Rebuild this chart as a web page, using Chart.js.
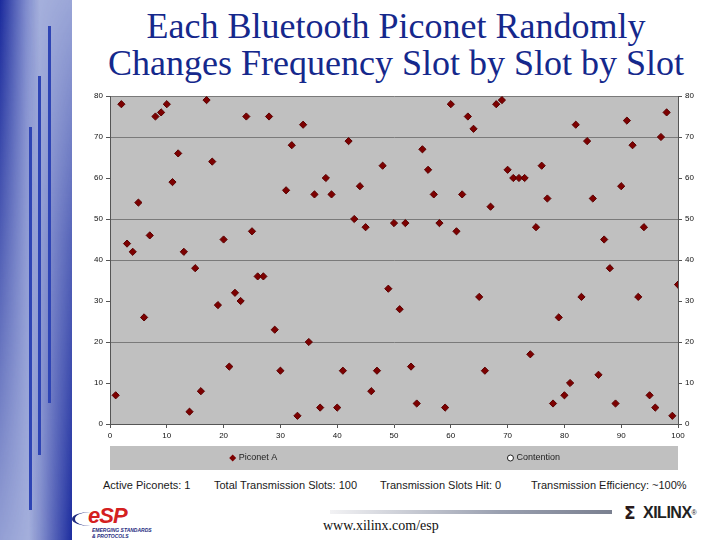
<!DOCTYPE html>
<html>
<head>
<meta charset="utf-8">
<script src="https://cdn.jsdelivr.net/npm/chart.js@4/dist/chart.umd.min.js"></script>
<style>
  html, body { margin:0; padding:0; background:#fff; }
  body { width:720px; height:540px; position:relative; overflow:hidden; font-family:"Liberation Sans", Arial, sans-serif; }
  .band { position:absolute; left:0; top:0; width:72px; height:540px; background:#a9b4de; }
  .bandA { position:absolute; left:0; top:0; width:72px; height:540px;
    background:linear-gradient(to right, #1a2a9c 0%, rgba(40,55,170,0.35) 35%, rgba(40,55,170,0) 55%);
    -webkit-mask-image:linear-gradient(to bottom, #000 0%, rgba(0,0,0,0.5) 60%, rgba(0,0,0,0.15) 100%);
    mask-image:linear-gradient(to bottom, #000 0%, rgba(0,0,0,0.5) 60%, rgba(0,0,0,0.15) 100%); }
  .bandB { position:absolute; left:0; top:0; width:72px; height:540px;
    background:linear-gradient(to right, rgba(30,45,160,0) 40%, rgba(30,45,160,0.6) 75%, #1c2c9e 100%);
    -webkit-mask-image:linear-gradient(to bottom, rgba(0,0,0,0.1) 0%, rgba(0,0,0,0.6) 45%, #000 100%);
    mask-image:linear-gradient(to bottom, rgba(0,0,0,0.1) 0%, rgba(0,0,0,0.6) 45%, #000 100%); }
  .vl { position:absolute; width:3px; background:#2e44b4; }
  .title { position:absolute; left:72px; width:648px; top:8px; text-align:center; font-family:"Liberation Serif","Times New Roman",serif; font-size:36px; line-height:37px; color:#15288c; white-space:nowrap; }
  #wrap { position:absolute; left:80px; top:86px; width:628px; height:390px; }
  .stats { position:absolute; top:479px; font-size:11px; color:#1a1a1a; white-space:nowrap; }
  .url { position:absolute; left:323px; top:518px; font-family:"Liberation Serif","Times New Roman",serif; font-size:14px; color:#111; }
  .bar { position:absolute; left:330px; top:510px; width:282px; height:4px; background:linear-gradient(to right, #f2f2f4, #9aa0b0 60%, #7a8090); }
  .esp { position:absolute; left:88px; top:505px; font-family:"Liberation Sans",Arial,sans-serif; font-weight:bold; font-style:italic; font-size:22px; color:#d42020; letter-spacing:-1px; line-height:22px; }
  .espsw { position:absolute; left:72px; top:512px; width:34px; height:14px; border-left:3px solid #1e2a80; border-radius:50%/50%; }
  .espt { position:absolute; left:92px; top:527px; font-size:5px; font-weight:bold; font-style:italic; color:#1e2a80; line-height:6px; }
  .xmark { position:absolute; left:624px; top:505px; font-family:"DejaVu Sans",sans-serif; font-weight:bold; font-size:17px; color:#2a1a1a; line-height:17px; }
  .xil { position:absolute; left:643px; top:504px; font-family:"Liberation Sans",Arial,sans-serif; font-weight:bold; font-size:16px; color:#222; letter-spacing:-0.5px; line-height:18px; }
  .reg { font-size:7px; vertical-align:top; font-weight:normal; }
</style>
</head>
<body>
<div class="band"></div>
<div class="bandA"></div>
<div class="bandB"></div>
<div class="vl" style="left:29px; top:127px; height:383px;"></div>
<div class="vl" style="left:38px; top:76px; height:379px;"></div>
<div class="vl" style="left:48px; top:26px; height:377px;"></div>

<div class="title">Each Bluetooth Piconet Randomly<br>Changes Frequency Slot by Slot by Slot</div>

<div id="wrap"><canvas id="c" width="628" height="390"></canvas></div>

<div class="stats" style="left:103px;">Active Piconets: 1</div>
<div class="stats" style="left:214px;">Total Transmission Slots: 100</div>
<div class="stats" style="left:380px;">Transmission Slots Hit: 0</div>
<div class="stats" style="left:531px;">Transmission Efficiency: ~100%</div>

<div class="espsw"></div>
<div class="esp">eSP</div>
<div class="espt">EMERGING STANDARDS<br>&amp; PROTOCOLS</div>
<div class="bar"></div>
<div class="url">www.xilinx.com/esp</div>
<div class="xmark">Σ</div>
<div class="xil">XILINX<span class="reg">®</span></div>

<script>
// ---- data ----
const slots = [1,2,3,4,5,6,7,8,9,10,11,12,13,14,15,16,17,18,19,20,21,22,23,24,25,26,27,28,29,30,31,32,33,34,35,36,37,38,39,40,41,42,43,44,45,46,47,48,49,50,51,52,53,54,55,56,57,58,59,60,61,62,63,64,65,66,67,68,69,70,71,72,73,74,75,76,77,78,79,80,81,82,83,84,85,86,87,88,89,90,91,92,93,94,95,96,97,98,99,100];
const piconetA = [7,78,44,42,54,26,46,75,76,78,59,66,42,3,38,8,79,64,29,45,14,32,30,75,47,36,36,75,23,13,57,68,2,73,20,56,4,60,56,4,13,69,50,58,48,8,13,63,33,49,28,49,14,5,67,62,56,49,4,78,47,56,75,72,31,13,53,78,79,62,60,60,60,17,48,63,55,5,26,7,10,73,31,69,55,12,45,38,5,58,74,68,31,48,7,4,70,76,2,34];
const contention = [];
const seriesLabels = ["Piconet A", "Contention"];
const yTicks = [0,10,20,30,40,50,60,70,80];
const xTicks = [0,10,20,30,40,50,60,70,80,90,100];
const visibleGrid = [20,40,50,70,80];

const tickFont = { family: "Liberation Sans, Arial, sans-serif", size: 8 };

const bgPlugin = {
  id: 'bg',
  beforeDraw(chart) {
    const { ctx, chartArea: a } = chart;
    ctx.save();
    ctx.fillStyle = '#c0c0c0';
    ctx.fillRect(a.left, a.top, a.right - a.left, a.bottom - a.top);
    ctx.fillRect(a.left, a.bottom + 22, a.right - a.left, 24);
    ctx.restore();
  },
  afterDraw(chart) {
    const { ctx, chartArea: a } = chart;
    const w = a.right - a.left;
    const y = a.bottom + 34;
    ctx.save();
    ctx.font = "9px 'Liberation Sans', Arial, sans-serif";
    ctx.textBaseline = 'middle';
    const x1 = a.left + 0.216 * w;
    const ds = chart.data.datasets[0];
    ctx.fillStyle = ds.backgroundColor;
    ctx.beginPath();
    ctx.moveTo(x1, y - 3.5); ctx.lineTo(x1 + 3.5, y); ctx.lineTo(x1, y + 3.5); ctx.lineTo(x1 - 3.5, y); ctx.closePath();
    ctx.fill();
    ctx.fillStyle = '#222';
    ctx.fillText(ds.label, x1 + 6, y);
    const x2 = a.left + 0.705 * w;
    const ds2 = chart.data.datasets[1];
    ctx.beginPath();
    ctx.arc(x2, y, 3, 0, Math.PI * 2);
    ctx.fillStyle = '#fff'; ctx.fill();
    ctx.strokeStyle = '#222'; ctx.lineWidth = 1; ctx.stroke();
    ctx.fillStyle = '#222';
    ctx.fillText(ds2.label, x2 + 6, y);
    ctx.restore();
  }
};

new Chart(document.getElementById('c'), {
  type: 'scatter',
  data: {
    datasets: [
      {
        label: seriesLabels[0],
        data: slots.map((s, i) => ({ x: s, y: piconetA[i] })),
        pointStyle: 'rectRot',
        pointRadius: 3.6,
        backgroundColor: '#7d0000',
        borderColor: '#5a0000',
        borderWidth: 1,
        yAxisID: 'y'
      },
      {
        label: seriesLabels[1],
        data: contention,
        pointStyle: 'circle',
        pointRadius: 3,
        backgroundColor: '#fff',
        borderColor: '#222',
        yAxisID: 'y'
      }
    ]
  },
  options: {
    responsive: false,
    animation: false,
    devicePixelRatio: 1,
    layout: { padding: { top: 10, bottom: 32, left: 0, right: 0 } },
    plugins: { legend: { display: false }, tooltip: { enabled: false }, title: { display: false } },
    scales: {
      x: {
        type: 'linear', min: 0, max: 100,
        afterFit(s) { s.height = 20; },
        afterBuildTicks(s) { s.ticks = xTicks.map(v => ({ value: v })); },
        grid: { display: true, drawOnChartArea: false, tickLength: 4, tickColor: '#555' },
        border: { display: true, color: '#555', width: 1 },
        ticks: { font: tickFont, color: '#111', padding: 3, maxRotation: 0 }
      },
      y: {
        type: 'linear', position: 'left', min: 0, max: 80,
        afterFit(s) { s.width = 30; },
        afterBuildTicks(s) { s.ticks = yTicks.map(v => ({ value: v })); },
        grid: {
          color: ctx => visibleGrid.includes(ctx.tick && ctx.tick.value) ? '#7a7a7a' : 'rgba(0,0,0,0)',
          lineWidth: 1, tickLength: 4, tickColor: '#555'
        },
        border: { display: true, color: '#555', width: 1 },
        ticks: { font: tickFont, color: '#111', padding: 3 }
      },
      y2: {
        type: 'linear', position: 'right', min: 0, max: 80,
        afterFit(s) { s.width = 30; },
        afterBuildTicks(s) { s.ticks = yTicks.map(v => ({ value: v })); },
        grid: { drawOnChartArea: false, tickLength: 4, tickColor: '#555' },
        border: { display: true, color: '#555', width: 1 },
        ticks: { font: tickFont, color: '#111', padding: 3 }
      }
    }
  },
  plugins: [bgPlugin]
});
</script>
</body>
</html>
